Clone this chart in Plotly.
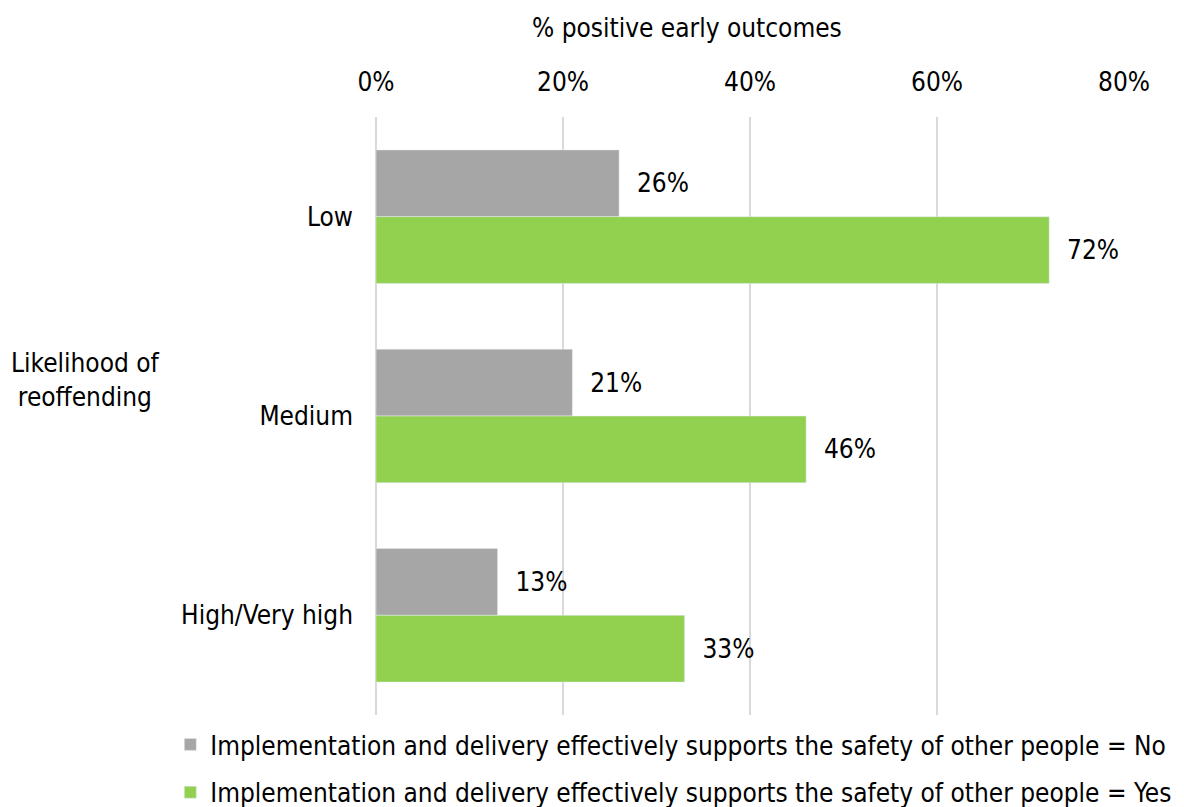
import plotly.graph_objects as go

categories = ["Low", "Medium", "High/Very high"]
no_values = [0.26, 0.21, 0.13]
yes_values = [0.72, 0.46, 0.33]
tick_values = [0, 0.2, 0.4, 0.6, 0.8]
tick_labels = ["0%", "20%", "40%", "60%", "80%"]

no_name = "Implementation and delivery effectively supports the safety of other people = No"
yes_name = "Implementation and delivery effectively supports the safety of other people = Yes"

font_family = "'DejaVu Sans Condensed', 'Noto Sans', sans-serif"
pad = "\u00a0\u00a0"

fig = go.Figure()
for values, name, color in (
    (no_values, no_name, "#A6A6A6"),
    (yes_values, yes_name, "#92D050"),
):
    fig.add_trace(
        go.Bar(
            y=categories,
            x=values,
            orientation="h",
            name=name,
            legendgroup=name,
            marker={"color": color},
            text=[f"{pad}{v:.0%}" for v in values],
            textposition="outside",
            textfont={"size": 26, "color": "#000000"},
            cliponaxis=False,
        )
    )

# axis title sits left of the plot centre in the original
fig.add_annotation(
    text="% positive early outcomes",
    xref="paper",
    yref="paper",
    x=0.416,
    y=1.149,
    xanchor="center",
    yanchor="middle",
    showarrow=False,
    font={"size": 26, "color": "#000000"},
)
fig.add_annotation(
    text="Likelihood of<br>reoffending",
    xref="paper",
    yref="paper",
    x=-0.389,
    y=0.56,
    xanchor="center",
    yanchor="middle",
    showarrow=False,
    font={"size": 26, "color": "#000000"},
)

# figure runs past the bottom of the window so the legend does not squeeze the plot
fig.update_layout(
    width=1176,
    height=840,
    margin={"l": 368, "r": 60, "t": 109, "b": 133},
    barmode="group",
    bargap=0.33,
    bargroupgap=0,
    plot_bgcolor="#FFFFFF",
    paper_bgcolor="#FFFFFF",
    font={"family": font_family, "size": 26, "color": "#000000"},
    xaxis={
        "side": "top",
        "range": [0, 0.8],
        "tickvals": tick_values,
        "ticktext": tick_labels,
        "showgrid": True,
        "gridcolor": "#D9D9D9",
        "gridwidth": 2,
        "zeroline": True,
        "zerolinecolor": "#D9D9D9",
        "zerolinewidth": 2,
        "showline": False,
        "ticks": "",
        "ticklabelstandoff": 20,
    },
    yaxis={
        "autorange": "reversed",
        "showgrid": False,
        "zeroline": False,
        "showline": False,
        "ticks": "",
        "ticklabelstandoff": 22,
    },
    legend={
        "orientation": "v",
        "x": -0.275,
        "xanchor": "left",
        "y": -0.01,
        "yanchor": "top",
        "traceorder": "grouped",
        "tracegroupgap": 11,
        "itemwidth": 30,
        "font": {"size": 26},
    },
    showlegend=True,
)

fig.write_html("out.html")
